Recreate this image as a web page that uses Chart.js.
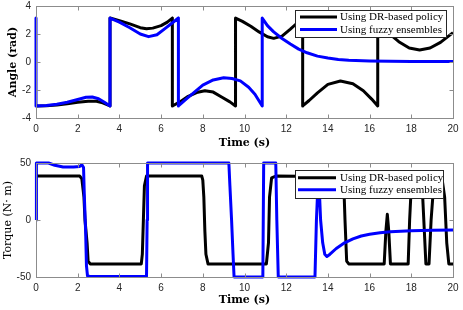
<!DOCTYPE html>
<html>
<head>
<meta charset="utf-8">
<script src="https://cdn.jsdelivr.net/npm/chart.js@4.4.0/dist/chart.umd.min.js"></script>
<style>
  html, body { margin: 0; padding: 0; background: #fff; }
  #wrap { position: relative; width: 463px; height: 310px; }
  canvas { position: absolute; left: 0; }
</style>
</head>
<body>
<div id="wrap">
  <canvas id="angle-chart" width="463" height="150" style="top:0"></canvas>
  <canvas id="torque-chart" width="463" height="160" style="top:150px"></canvas>
</div>
<script>
// series names
const seriesLabels = ['Using DR-based policy', 'Using fuzzy ensembles'];

// tick values
const timeTicks = [0, 2, 4, 6, 8, 10, 12, 14, 16, 18, 20];
const angleTicks = [-4, -2, 0, 2, 4];
const torqueTicks = [-50, 0, 50];

// angle (rad), DR-based policy
const angleDrT = [0, 0.5, 1, 1.5, 2, 2.5, 2.9, 3.2, 3.55,
  3.55, 4, 4.5, 5, 5.3, 5.6, 6, 6.3, 6.54,
  6.54, 6.9, 7.3, 7.7, 8.1, 8.5, 8.9, 9.3, 9.57,
  9.57, 9.9, 10.3, 10.7, 11.1, 11.4, 11.8, 12.2, 12.5, 12.79,
  12.79, 13.1, 13.5, 14, 14.6, 15.2, 15.7, 16.1, 16.39,
  16.39, 16.7, 17, 17.4, 17.9, 18.4, 18.9, 19.4, 20];
const angleDrV = [-3.14, -3.12, -3.07, -2.99, -2.88, -2.8, -2.8, -2.92, -3.14,
  3.14, 2.95, 2.72, 2.45, 2.37, 2.42, 2.6, 2.85, 3.14,
  -3.14, -2.85, -2.45, -2.18, -2.05, -2.15, -2.5, -2.85, -3.14,
  3.14, 2.9, 2.55, 2.15, 1.8, 1.69, 1.85, 2.35, 2.75, 3.14,
  -3.14, -2.75, -2.2, -1.6, -1.36, -1.55, -2.05, -2.65, -3.14,
  3.14, 2.55, 1.95, 1.45, 1.0, 0.86, 1.0, 1.4, 2.1];

// angle (rad), fuzzy ensembles
const angleFeT = [0, 0, 0.5, 1, 1.5, 2, 2.4, 2.7, 3, 3.3, 3.55,
  3.55, 4, 4.5, 5, 5.4, 5.8, 6.2, 6.5, 6.83,
  6.83, 7.2, 7.6, 8, 8.5, 9, 9.4, 9.8, 10.2, 10.5, 10.85,
  10.85, 11.1, 11.4, 11.8, 12.2, 12.6, 13, 13.5, 14, 14.5, 15, 16, 17, 18, 20];
const angleFeV = [3.14, -3.14, -3.1, -3.02, -2.88, -2.68, -2.52, -2.5, -2.62, -2.9, -3.14,
  3.14, 2.85, 2.45, 2.0, 1.81, 1.95, 2.4, 2.75, 3.14,
  -3.14, -2.65, -2.15, -1.65, -1.28, -1.12, -1.18, -1.35, -1.8, -2.3, -3.14,
  3.14, 2.6, 2.15, 1.68, 1.28, 0.92, 0.66, 0.42, 0.28, 0.18, 0.13, 0.08, 0.05, 0.04, 0.03];

// torque (N m), DR-based policy
const torqueDrT = [0, 2.1, 2.2, 2.3, 2.35, 2.45, 2.5, 2.6,
  5.05, 5.1, 5.15, 5.2, 5.3,
  7.95, 8.0, 8.05, 8.1, 8.15, 8.25,
  11.05, 11.15, 11.2, 11.3, 11.5,
  14.75, 14.82, 14.9, 15.0,
  16.7, 16.78, 16.85, 16.92, 17.0,
  17.85, 17.92, 18.0, 18.1, 18.5, 18.6, 18.7,
  18.85, 18.95, 19.05, 19.3, 19.5, 19.6, 19.7, 19.8, 20];
const torqueDrV = [38.5, 38.5, 36, 20, 0, -20, -36, -38.5,
  -38.5, -30, 0, 30, 38.5,
  38.5, 35, 20, -10, -30, -38.5,
  -38.5, -20, 20, 37, 38.5,
  38, 0, -36, -38.5,
  -38.5, -10, 5, -10, -38.5,
  -38.5, 0, 30, 38, 38, 0, -38.5,
  -38.5, 0, 25, 30, 33, 20, -20, -38.5, -38.5];

// torque (N m), fuzzy ensembles
const torqueFeT = [0, 0.02, 0.6, 0.9, 1.3, 1.8, 2.1, 2.2, 2.28, 2.32, 2.38, 2.42, 2.47, 2.6,
  5.3, 5.33, 5.35, 9.25, 9.3, 9.38, 9.45, 9.5,
  10.88, 10.92, 11.5, 11.55, 11.62,
  13.38, 13.45, 13.52, 13.58, 13.65, 13.75, 13.85, 13.95,
  14.1, 14.4, 14.8, 15.2, 15.6, 16, 16.5, 17, 17.5, 18, 19, 20];
const torqueFeV = [0, 50, 50, 48, 46.5, 46.5, 47, 48.5, 46, 20, -10, -40, -49, -49.5,
  -49.5, 0, 50, 50, 30, 0, -30, -50,
  -50, 50, 50, 0, -50,
  -50, 0, 30, 30, 0, -20, -30, -32,
  -30, -25, -20, -16.5, -14, -12.5, -11.2, -10.3, -9.8, -9.4, -9.0, -8.8];

const toPoints = (t, v) => t.map((x, i) => ({ x: x, y: v[i] }));

// MATLAB-like box with inward ticks
const boxAxes = {
  id: 'boxAxes',
  afterDatasetsDraw(chart) {
    const { ctx, chartArea: a, scales: { x, y } } = chart;
    const L = Math.round(a.left) + 0.5, R = Math.round(a.right) + 0.5;
    const T = Math.round(a.top) + 0.5, B = Math.round(a.bottom) + 0.5;
    ctx.save();
    ctx.strokeStyle = '#8c8c8c';
    ctx.lineWidth = 1;
    ctx.beginPath();
    x.ticks.forEach(t => {
      const px = Math.round(x.getPixelForValue(t.value)) + 0.5;
      ctx.moveTo(px, B); ctx.lineTo(px, B - 4);
      ctx.moveTo(px, T); ctx.lineTo(px, T + 4);
    });
    y.ticks.forEach(t => {
      const py = Math.round(y.getPixelForValue(t.value)) + 0.5;
      ctx.moveTo(L, py); ctx.lineTo(L + 4, py);
      ctx.moveTo(R, py); ctx.lineTo(R - 4, py);
    });
    ctx.stroke();
    ctx.strokeRect(L, T, R - L, B - T);
    ctx.restore();
  }
};

// legend box inside the axes
const boxLegend = {
  id: 'boxLegend',
  afterDraw(chart, args, opts) {
    const { ctx } = chart;
    ctx.save();
    ctx.fillStyle = '#fff';
    ctx.fillRect(opts.left, opts.top, opts.right - opts.left, opts.bottom - opts.top);
    ctx.strokeStyle = '#262626';
    ctx.lineWidth = 1;
    ctx.strokeRect(opts.left + 0.5, opts.top + 0.5, opts.right - opts.left, opts.bottom - opts.top);
    ctx.font = '11px "Liberation Serif"';
    ctx.textBaseline = 'middle';
    chart.data.datasets.forEach((ds, i) => {
      const yy = opts.rows[i];
      ctx.strokeStyle = ds.borderColor;
      ctx.lineWidth = 3;
      ctx.beginPath();
      ctx.moveTo(opts.lineX0, yy);
      ctx.lineTo(opts.lineX1, yy);
      ctx.stroke();
      ctx.fillStyle = '#000';
      ctx.fillText(ds.label, opts.textX, yy + 0.5);
    });
    ctx.restore();
  }
};

function makeDatasets(drT, drV, feT, feV) {
  return [
    {
      label: seriesLabels[0],
      data: toPoints(drT, drV),
      borderColor: '#000000',
      borderWidth: 3,
      pointRadius: 0,
      borderJoinStyle: 'round',
      clip: 4,
      order: 2
    },
    {
      label: seriesLabels[1],
      data: toPoints(feT, feV),
      borderColor: '#0000ff',
      borderWidth: 3,
      pointRadius: 0,
      borderJoinStyle: 'round',
      clip: 4,
      order: 1
    }
  ];
}

const tickFont = { family: '"Liberation Sans"', size: 10 };

function makeOptions(yTicks, yTitle, xHeight, yTitlePad, legendBox, padTop, xTitlePad) {
  return {
    responsive: false,
    animation: false,
    devicePixelRatio: 1,
    layout: { padding: { top: padTop, right: 10, left: 0, bottom: 0 } },
    plugins: {
      legend: { display: false },
      tooltip: { enabled: false },
      boxLegend: legendBox
    },
    scales: {
      x: {
        type: 'linear',
        min: 0,
        max: 20,
        grid: { display: false, drawTicks: false },
        border: { display: false },
        afterBuildTicks: s => { s.ticks = timeTicks.map(v => ({ value: v })); },
        afterFit: s => { s.height = xHeight; s.paddingLeft = 0; s.paddingRight = 0; },
        ticks: { color: '#262626', font: tickFont, padding: 5, maxRotation: 0, autoSkip: false },
        title: {
          display: true,
          text: 'Time (s)',
          color: '#000',
          font: { family: '"DejaVu Serif"', size: 11, weight: 'bold' },
          padding: { top: 0, bottom: xTitlePad }
        }
      },
      y: {
        min: yTicks[0],
        max: yTicks[yTicks.length - 1],
        grid: { display: false, drawTicks: false },
        border: { display: false },
        afterBuildTicks: s => { s.ticks = yTicks.map(v => ({ value: v })); },
        afterFit: s => { s.width = 36; s.paddingTop = 0; s.paddingBottom = 0; },
        ticks: { color: '#262626', font: tickFont, padding: 5 },
        title: {
          display: true,
          text: yTitle.text,
          color: '#000',
          font: { family: '"DejaVu Serif"', size: 11, weight: yTitle.weight },
          padding: { top: yTitlePad, bottom: 0 }
        }
      }
    }
  };
}

new Chart(document.getElementById('angle-chart'), {
  type: 'line',
  data: { datasets: makeDatasets(angleDrT, angleDrV, angleFeT, angleFeV) },
  options: makeOptions(angleTicks, { text: 'Angle (rad)', weight: 'bold' }, 32, 7,
    { left: 295, top: 10, right: 446, bottom: 37, rows: [17, 29.5], lineX0: 300, lineX1: 337, textX: 340 }, 6, 0),
  plugins: [boxAxes, boxLegend]
});

new Chart(document.getElementById('torque-chart'), {
  type: 'line',
  data: { datasets: makeDatasets(torqueDrT, torqueDrV, torqueFeT, torqueFeV) },
  options: makeOptions(torqueTicks, { text: 'Torque (N\u00b7 m)', weight: 'normal' }, 33, 1.5,
    { left: 295, top: 20, right: 443, bottom: 48, rows: [27.7, 39.7], lineX0: 298, lineX1: 336, textX: 340 }, 13, 3),
  plugins: [boxAxes, boxLegend]
});
</script>
</body>
</html>
